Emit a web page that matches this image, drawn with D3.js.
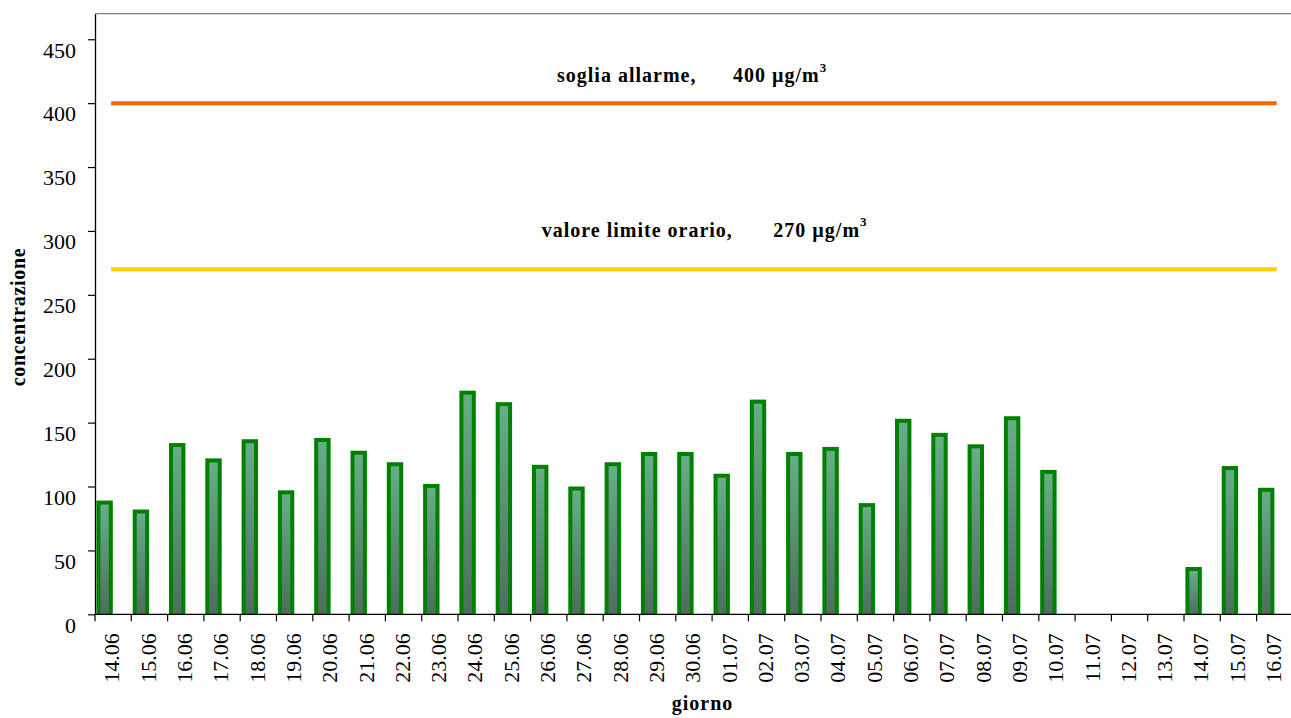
<!DOCTYPE html>
<html>
<head>
<meta charset="utf-8">
<script src="https://cdn.jsdelivr.net/npm/d3@7"></script>
<style>
  html, body { margin: 0; padding: 0; background: #ffffff; }
  svg { display: block; }
  text { font-family: "Liberation Serif", "Times New Roman", serif; fill: #000; }
</style>
</head>
<body>
<svg id="chart" width="1291" height="718"></svg>
<script>
// Daily maximum concentration, 14 June – 16 July
const categories = [
  "14.06", "15.06", "16.06", "17.06", "18.06", "19.06", "20.06", "21.06", "22.06", "23.06",
  "24.06", "25.06", "26.06", "27.06", "28.06", "29.06", "30.06", "01.07", "02.07", "03.07",
  "04.07", "05.07", "06.07", "07.07", "08.07", "09.07", "10.07", "11.07", "12.07", "13.07",
  "14.07", "15.07", "16.07"
];
const concentrations = [
  89, 82, 134, 122, 137, 97, 138, 128, 119, 102,
  175, 166, 117, 100, 119, 127, 127, 110, 168, 127,
  131, 87, 153, 142, 133, 155, 113, 0, 0, 0,
  37, 116, 99
];
const yTicks = [0, 50, 100, 150, 200, 250, 300, 350, 400, 450];

// Reference thresholds
const thresholdNames = ["soglia allarme,", "valore limite orario,"];
const thresholdValues = [400, 270];
const thresholdUnit = "µg/m";

const svg = d3.select("#chart");

const x = d3.scaleBand()
  .domain(categories)
  .range([95, 1292.9])
  .paddingInner(0)
  .paddingOuter(0);

const y = d3.scaleLinear()
  .domain([0, 470])
  .range([614.3, 13.7]);

const bw = x.bandwidth();

// bar gradient
const defs = svg.append("defs");
const grad = defs.append("linearGradient")
  .attr("id", "barFill")
  .attr("x1", 0).attr("y1", 0).attr("x2", 0).attr("y2", 1);
grad.append("stop").attr("offset", "0%").attr("stop-color", "#66ae88");
grad.append("stop").attr("offset", "100%").attr("stop-color", "#4e6d5d");

// plot frame (top edge)
svg.append("line")
  .attr("x1", 95).attr("x2", 1292.9)
  .attr("y1", y(470)).attr("y2", y(470))
  .attr("stroke", "#808080").attr("stroke-width", 1.3);

// bars
const barData = categories.map((c, i) => ({ c, v: concentrations[i] })).filter(d => d.v > 0);
const bars = svg.append("g").attr("class", "bars");
const barOffset = 1.4, barWidth = 16.4, border = 4;

bars.selectAll("rect.outer")
  .data(barData)
  .join("rect")
  .attr("class", "outer")
  .attr("x", d => x(d.c) + barOffset)
  .attr("y", d => y(d.v))
  .attr("width", barWidth)
  .attr("height", d => y(0) - y(d.v))
  .attr("fill", "#008000");

bars.selectAll("rect.inner")
  .data(barData)
  .join("rect")
  .attr("class", "inner")
  .attr("x", d => x(d.c) + barOffset + border)
  .attr("y", d => y(d.v) + border)
  .attr("width", barWidth - 2 * border)
  .attr("height", d => Math.max(0, y(0) - y(d.v) - border))
  .attr("fill", "url(#barFill)");

// threshold lines
const lineColors = ["#ff6600", "#ffcc00"];
const xStart = x(categories[0]) + bw / 2;
const xEnd = x(categories[categories.length - 1]) + bw / 2;
svg.append("g").selectAll("line")
  .data(thresholdValues)
  .join("line")
  .attr("x1", xStart).attr("x2", xEnd)
  .attr("y1", d => y(d)).attr("y2", d => y(d))
  .attr("stroke", (d, i) => lineColors[i])
  .attr("stroke-width", 4)
  .attr("stroke-linecap", "square");

// threshold labels
const labelPos = [
  { nameX: 557, valueX: 733, baseline: 82.3 },
  { nameX: 541.7, valueX: 773.3, baseline: 236.7 }
];
thresholdValues.forEach((v, i) => {
  const t = svg.append("text")
    .attr("y", labelPos[i].baseline)
    .style("font-size", "20px")
    .style("font-weight", "bold")
    .style("letter-spacing", "1px");
  t.append("tspan").attr("x", labelPos[i].nameX).text(thresholdNames[i]);
  t.append("tspan").attr("x", labelPos[i].valueX).text(v + " " + thresholdUnit);
  t.append("tspan").attr("dy", -10.6).style("font-size", "13px").style("letter-spacing", "0px").text("3");
});

// y axis
const yAxis = svg.append("g")
  .attr("transform", "translate(95,0)")
  .call(d3.axisLeft(y).tickValues(yTicks).tickSize(7).tickPadding(12).tickSizeOuter(0));
yAxis.select(".domain").attr("stroke", "#000").attr("stroke-width", 1.3);
yAxis.selectAll(".tick line").attr("stroke", "#000").attr("stroke-width", 1.2);
yAxis.selectAll(".tick text")
  .attr("dy", "0.81em")
  .style("font-size", "22px")
  .style("font-family", "'Liberation Serif', serif")
  .attr("fill", "#000");

// x axis
const xAxis = svg.append("g").attr("class", "x-axis");
xAxis.append("line")
  .attr("x1", 95).attr("x2", 1292.9)
  .attr("y1", y(0)).attr("y2", y(0))
  .attr("stroke", "#000").attr("stroke-width", 1.3);
xAxis.selectAll("line.tick")
  .data(categories)
  .join("line")
  .attr("class", "tick")
  .attr("x1", d => x(d)).attr("x2", d => x(d))
  .attr("y1", y(0)).attr("y2", y(0) + 7)
  .attr("stroke", "#000").attr("stroke-width", 1.2);
xAxis.selectAll("text")
  .data(categories)
  .join("text")
  .attr("transform", d => `translate(${x(d) + bw / 2},${y(0) + 19}) rotate(-90)`)
  .attr("text-anchor", "end")
  .attr("dy", 6.3)
  .style("font-size", "22px")
  .text(d => d);

// axis titles
svg.append("text")
  .attr("x", 702.5).attr("y", 710)
  .attr("text-anchor", "middle")
  .style("font-size", "20px").style("font-weight", "bold").style("letter-spacing", "1px")
  .text("giorno");

svg.append("text")
  .attr("transform", "translate(25,317) rotate(-90)")
  .attr("text-anchor", "middle")
  .style("font-size", "20px").style("font-weight", "bold").style("letter-spacing", "0.7px")
  .text("concentrazione");
</script>
</body>
</html>
